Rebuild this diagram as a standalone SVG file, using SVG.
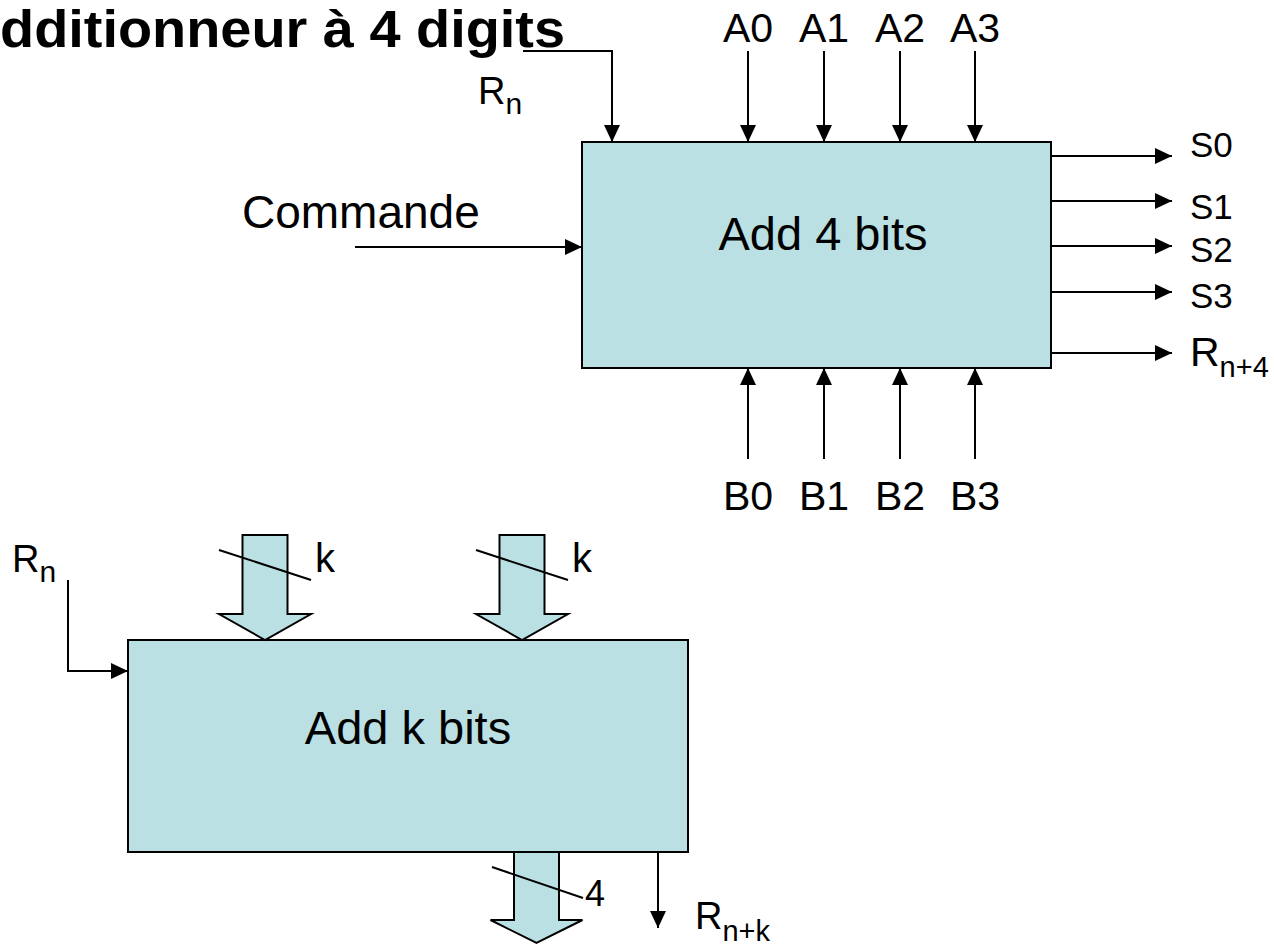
<svg xmlns="http://www.w3.org/2000/svg" width="1274" height="945" viewBox="0 0 1274 945">
<defs>
<style>
.box{fill:#BBE0E3;stroke:#000;stroke-width:2}
.big{fill:#BBE0E3;stroke:#000;stroke-width:2;stroke-linejoin:miter}
.ln{fill:none;stroke:#000;stroke-width:2}
.t{font-family:"Liberation Sans",Arial,sans-serif;fill:#000}
</style>
<marker id="ah" markerWidth="17" markerHeight="16" refX="17" refY="8" orient="auto" markerUnits="userSpaceOnUse">
<path d="M0,0 L17,8 L0,16 z" fill="#000"/>
</marker>
</defs>
<rect width="1274" height="945" fill="#fff"/>
<text class="t" x="0" y="47" font-size="51" font-weight="bold" textLength="565" lengthAdjust="spacingAndGlyphs">dditionneur à 4 digits</text>

<g id="add4">
<rect class="box" x="582" y="142" width="469" height="226"/>
<text class="t" x="823" y="250" font-size="47" text-anchor="middle">Add 4 bits</text>
</g>

<g id="addk">
<rect class="box" x="128" y="640" width="560" height="212"/>
<text class="t" x="408" y="744" font-size="47" text-anchor="middle">Add k bits</text>
</g>

<g id="bus-a">
<polygon class="big" points="242.5,535 287.5,535 287.5,614 311,614 265,640 219,614 242.5,614"/>
<line class="ln" x1="219" y1="550" x2="311" y2="580"/>
<text class="t" x="315" y="572" font-size="40">k</text>
</g>
<g id="bus-b">
<polygon class="big" points="499.5,535 544.5,535 544.5,614 568,614 522,640 476,614 499.5,614"/>
<line class="ln" x1="476" y1="550" x2="568" y2="580"/>
<text class="t" x="572" y="572" font-size="40">k</text>
</g>
<g id="bus-s">
<polygon class="big" points="514,852 559,852 559,920 582.5,920 536.5,943 490.5,920 514,920"/>
<line class="ln" x1="492" y1="867" x2="583" y2="898"/>
<text class="t" x="585" y="906" font-size="36">4</text>
</g>

<g id="labels">
<text class="t" x="478" y="104" font-size="38">R<tspan font-size="30" dy="10">n</tspan></text>
<text class="t" x="242" y="228" font-size="46">Commande</text>
<text class="t" x="748" y="42" font-size="41" text-anchor="middle">A0</text>
<text class="t" x="824" y="42" font-size="41" text-anchor="middle">A1</text>
<text class="t" x="900" y="42" font-size="41" text-anchor="middle">A2</text>
<text class="t" x="975" y="42" font-size="41" text-anchor="middle">A3</text>
<text class="t" x="748" y="510" font-size="41" text-anchor="middle">B0</text>
<text class="t" x="824" y="510" font-size="41" text-anchor="middle">B1</text>
<text class="t" x="900" y="510" font-size="41" text-anchor="middle">B2</text>
<text class="t" x="975" y="510" font-size="41" text-anchor="middle">B3</text>
<text class="t" x="1190" y="157" font-size="35">S0</text>
<text class="t" x="1190" y="219" font-size="35">S1</text>
<text class="t" x="1190" y="262" font-size="35">S2</text>
<text class="t" x="1190" y="308" font-size="35">S3</text>
<text class="t" x="1190" y="366" font-size="41">R<tspan font-size="29" dy="11">n+4</tspan></text>
<text class="t" x="12" y="572" font-size="38">R<tspan font-size="30" dy="10">n</tspan></text>
<text class="t" x="695" y="929" font-size="38">R<tspan font-size="29" dy="12">n+k</tspan></text>
</g>

<g id="connectors">
<path class="ln" d="M523,51 H612 V142" marker-end="url(#ah)"/>
<path class="ln" d="M355,247 H582" marker-end="url(#ah)"/>
<path class="ln" d="M748,51 V142" marker-end="url(#ah)"/>
<path class="ln" d="M824,51 V142" marker-end="url(#ah)"/>
<path class="ln" d="M900,51 V142" marker-end="url(#ah)"/>
<path class="ln" d="M975,51 V142" marker-end="url(#ah)"/>
<path class="ln" d="M748,459 V368" marker-end="url(#ah)"/>
<path class="ln" d="M824,459 V368" marker-end="url(#ah)"/>
<path class="ln" d="M900,459 V368" marker-end="url(#ah)"/>
<path class="ln" d="M975,459 V368" marker-end="url(#ah)"/>
<path class="ln" d="M1051,156 H1172" marker-end="url(#ah)"/>
<path class="ln" d="M1051,201 H1172" marker-end="url(#ah)"/>
<path class="ln" d="M1051,246 H1172" marker-end="url(#ah)"/>
<path class="ln" d="M1051,292 H1172" marker-end="url(#ah)"/>
<path class="ln" d="M1051,353 H1172" marker-end="url(#ah)"/>
<path class="ln" d="M68,580 V671 H128" marker-end="url(#ah)"/>
<path class="ln" d="M658,852 V928" marker-end="url(#ah)"/>
</g>
</svg>
